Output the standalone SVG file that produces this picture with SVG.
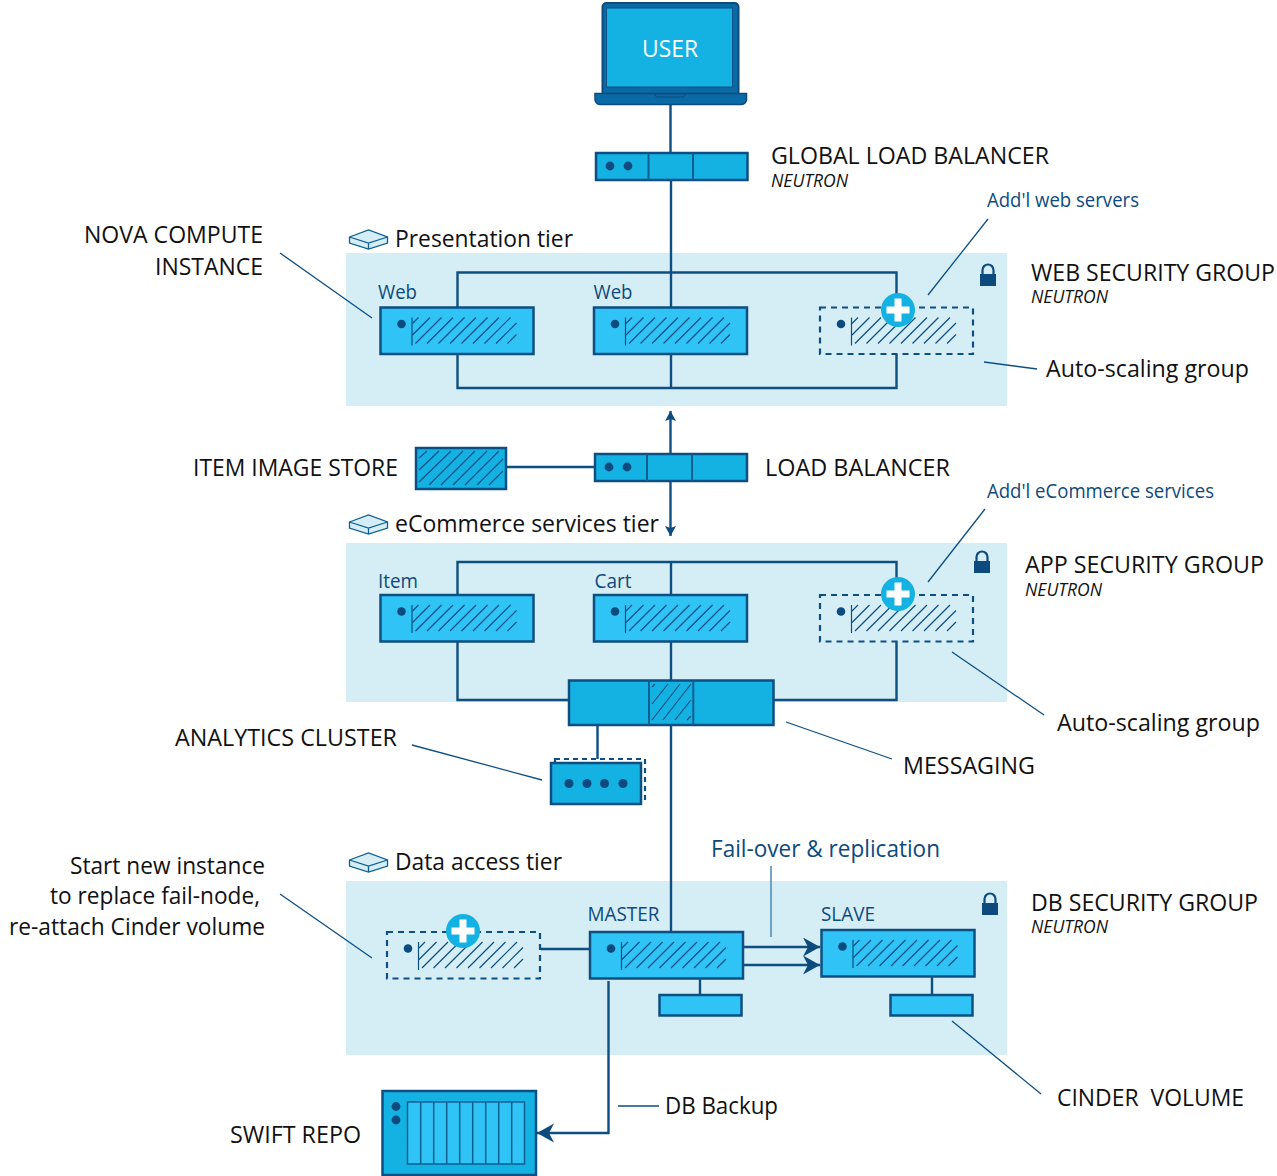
<svg xmlns="http://www.w3.org/2000/svg" xmlns:xlink="http://www.w3.org/1999/xlink" width="1277" height="1176" viewBox="0 0 1277 1176">
<style>
text{font-family:"Open Sans","Noto Sans","Liberation Sans",sans-serif;fill:#111}
.lg{font-size:24px}.md{font-size:23px}.it{font-size:18px;font-style:italic}
.nb{fill:#0d4a7e;font-size:20px}.nb2{fill:#0d4a7e;font-size:21px}
.panel{fill:#d5eef5}
.c{fill:none;stroke:#0d4f83;stroke-width:2.4}
.ld{fill:none;stroke:#0d4f83;stroke-width:1.3}
.box{fill:#30c3f6;stroke:#0d4f83;stroke-width:2.5}
.bl{fill:#14b1e3;stroke:#0d4f83;stroke-width:2.5}
.dash{fill:#d5eef5;stroke:#0d4f83;stroke-width:2.2;stroke-dasharray:6 5}
.div{stroke:#0d5f92;stroke-width:2;fill:none}
.h{stroke:#0d4f83;stroke-width:1.2;fill:none}
.dot{fill:#0d4a7e}
</style>
<defs>
<g id="hatch"><path class="h" d="M32 16L38 10M32 27.500L49.500 10M35 36L61 10M46.500 36L72.500 10M58 36L84 10M69.500 36L95.500 10M81 36L107 10M92.500 36L118.500 10M104 36L130 10M115.500 36L136 15.500M127 36L136 27"/><path class="h" d="M31.500 10V38" stroke-width="1.600"/><circle class="dot" cx="21" cy="16.500" r="4.300"/></g>
<g id="srv"><rect class="box" width="153" height="46.500"/><use href="#hatch"/></g>
<g id="dsrv"><rect class="dash" width="153" height="46.500"/><use href="#hatch"/></g>
<g id="plus"><circle r="17" fill="#14b1e3"/><path d="M-3.500 -11.500h7v8h8v7h-8v8h-7v-8h-8v-7h8z" fill="#fff"/></g>
<g id="tier"><path d="M1 8L20 1L39 8V14L20 20L1 14Z" fill="#d5eef5" stroke="#0d5f92" stroke-width="1.300"/><path d="M1 8L20 14L39 8M20 14V20" fill="none" stroke="#0d5f92" stroke-width="1.300"/></g>
<g id="lock"><rect x="0" y="10" width="16" height="12" fill="#0d4a7e"/><path d="M2.500 11V6a5.500 5.500 0 0 1 11 0V11" fill="none" stroke="#0d4a7e" stroke-width="2.200"/></g>
<marker id="bigR" markerUnits="userSpaceOnUse" markerWidth="20" markerHeight="20" refX="17" refY="9.500" orient="auto"><path d="M0 0L17 9.500L0 19L5 9.500Z" fill="#0d4a7e"/></marker>
<marker id="small" markerUnits="userSpaceOnUse" markerWidth="12" markerHeight="12" refX="10" refY="5.500" orient="auto"><path d="M0 0L10 5.500L0 11L2 5.500Z" fill="#0d4a7e"/></marker>
</defs>

<rect id="panel-presentation" class="panel" x="346" y="253" width="661" height="153"/>
<rect id="panel-ecommerce" class="panel" x="346" y="543" width="661" height="159"/>
<rect id="panel-data" class="panel" x="346" y="881" width="661" height="174"/>

<g id="connectors">
<path class="c" d="M670.500 105V153M671 180V388M457.500 307V272.500H896.500V307M457.500 354V388H896.500V354"/>
<path class="c" marker-end="url(#small)" d="M670.500 454V411"/>
<path class="c" marker-end="url(#small)" d="M670.500 481V536"/>
<path class="c" d="M506 467H595"/>
<path class="c" d="M457.500 595V562H896.500V595M671 562V595M671 641V680M457.500 641V700H569M896.500 641V700H774"/>
<path class="c" d="M671 725V932M597.500 725V760"/>
<path class="c" d="M541 949H590"/>
<path class="c" marker-end="url(#bigR)" d="M743 947H820"/>
<path class="c" marker-end="url(#bigR)" d="M743 965H820"/>
<path class="c" d="M700 979V995M932 977V995"/>
<path class="c" marker-end="url(#bigR)" d="M608.500 981V1133H537"/>
<path class="ld" style="stroke:#4a88b0;stroke-width:1.500" d="M771 866V937"/>
<path class="ld" d="M280 253L372 318M988 219L928 295M984 362L1037 369M985 509L928 582M952 652L1044 715M412 745L542 780M786 722L892 759M280 894L372 958M952 1021L1041 1094M618 1106H659"/>
</g>

<g id="user"><rect x="602.500" y="3" width="136" height="93" rx="4" fill="#0a6aa5" stroke="#0d4a7e" stroke-width="2"/><rect x="606.500" y="8" width="126" height="79" fill="#14b1e3" stroke="#0d4f83" stroke-width="1"/><path d="M595 93.500H746.500V99a5 5 0 0 1 -5 5.500H600a5 5 0 0 1 -5 -5.500Z" fill="#0a6aa5" stroke="#0d4a7e" stroke-width="1.500"/><path d="M654.500 94h31l-2 3h-27z" fill="#0a6aa5" stroke="#0d4a7e"/><text x="642" y="57" style="fill:#fff;font-size:24px" textLength="56" lengthAdjust="spacingAndGlyphs">USER</text></g>

<g id="global-lb"><rect class="bl" x="596" y="153" width="151.500" height="27"/><path class="div" d="M648.500 153V180M693 153V180"/><circle class="dot" cx="610" cy="166" r="4.400"/><circle class="dot" cx="628" cy="166" r="4.400"/><text x="771" y="164" class="lg" textLength="278" lengthAdjust="spacingAndGlyphs">GLOBAL LOAD BALANCER</text><text x="771" y="187" class="it" textLength="77" lengthAdjust="spacingAndGlyphs">NEUTRON</text></g>

<g id="presentation-tier"><use href="#tier" x="348.500" y="229"/><text x="395" y="247" class="lg" textLength="178" lengthAdjust="spacingAndGlyphs">Presentation tier</text></g>
<g id="nova-label"><text x="84" y="243" class="lg" textLength="179" lengthAdjust="spacingAndGlyphs">NOVA COMPUTE</text><text x="155" y="275" class="lg" textLength="108" lengthAdjust="spacingAndGlyphs">INSTANCE</text></g>
<g id="web1"><use href="#srv" x="380.500" y="307.500"/><text x="378" y="299" class="nb" textLength="39" lengthAdjust="spacingAndGlyphs">Web</text></g>
<g id="web2"><use href="#srv" x="594" y="307.500"/><text x="593.500" y="299" class="nb" textLength="39" lengthAdjust="spacingAndGlyphs">Web</text></g>
<g id="web3"><use href="#dsrv" x="820" y="307.500"/><use href="#plus" x="898" y="310"/></g>
<g id="web-sg"><use href="#lock" x="980" y="264"/><text x="1031" y="281" class="lg" textLength="244" lengthAdjust="spacingAndGlyphs">WEB SECURITY GROUP</text><text x="1031" y="303" class="it" textLength="77" lengthAdjust="spacingAndGlyphs">NEUTRON</text></g>
<text id="addl-web" x="987" y="207" class="nb" textLength="152" lengthAdjust="spacingAndGlyphs">Add'l web servers</text>
<text id="asg1" x="1046" y="377" class="lg" textLength="203" lengthAdjust="spacingAndGlyphs">Auto-scaling group</text>

<g id="image-store"><rect class="bl" x="416" y="448" width="90" height="41"/><path class="h" d="M419 458L427 451M419 470L439 451M419 482L451 451M429 485L463 451M441 485L475 451M453 485L487 451M465 485L499 451M477 485L503 459M489 485L503 471"/><text x="193" y="476" class="lg" textLength="205" lengthAdjust="spacingAndGlyphs">ITEM IMAGE STORE</text></g>
<g id="lb"><rect class="bl" x="595" y="454" width="152" height="27"/><path class="div" d="M647 454V481M692 454V481"/><circle class="dot" cx="609" cy="467" r="4.400"/><circle class="dot" cx="627" cy="467" r="4.400"/><text x="765" y="476" class="lg" textLength="185" lengthAdjust="spacingAndGlyphs">LOAD BALANCER</text></g>

<g id="ecommerce-tier"><use href="#tier" x="348.500" y="514"/><text x="395" y="532" class="lg" textLength="264" lengthAdjust="spacingAndGlyphs">eCommerce services tier</text></g>
<text id="addl-ecom" x="987" y="498" class="nb" textLength="227" lengthAdjust="spacingAndGlyphs">Add'l eCommerce services</text>
<g id="item"><use href="#srv" x="380.500" y="595"/><text x="378" y="588" class="nb" textLength="40" lengthAdjust="spacingAndGlyphs">Item</text></g>
<g id="cart"><use href="#srv" x="594" y="595"/><text x="594.500" y="588" class="nb" textLength="37" lengthAdjust="spacingAndGlyphs">Cart</text></g>
<g id="ecom3"><use href="#dsrv" x="820" y="595"/><use href="#plus" x="898" y="594"/></g>
<g id="app-sg"><use href="#lock" x="974" y="551"/><text x="1025" y="573" class="lg" textLength="239" lengthAdjust="spacingAndGlyphs">APP SECURITY GROUP</text><text x="1025" y="596" class="it" textLength="77" lengthAdjust="spacingAndGlyphs">NEUTRON</text></g>
<text id="asg2" x="1057" y="731" class="lg" textLength="203" lengthAdjust="spacingAndGlyphs">Auto-scaling group</text>

<g id="messaging"><rect class="bl" x="569" y="680.500" width="204.500" height="44.500"/><path class="div" d="M649 680.500V725M693.300 680.500V725"/><path class="h" d="M652 687L655 684M652 704L668 684M652 720L680 684M663 720L691 684M675 720L691 700M687 720L691 716"/><text x="903" y="774" class="lg" textLength="132" lengthAdjust="spacingAndGlyphs">MESSAGING</text></g>
<g id="analytics"><rect x="555" y="759" width="90" height="42" fill="#fff" stroke="#0d4f83" stroke-width="2.200" stroke-dasharray="5 4"/><rect class="bl" x="551" y="763" width="90" height="41"/><circle class="dot" cx="569" cy="783.500" r="4.500"/><circle class="dot" cx="587" cy="783.500" r="4.500"/><circle class="dot" cx="604.500" cy="783.500" r="4.500"/><circle class="dot" cx="623" cy="783.500" r="4.500"/><text x="175" y="746" class="lg" textLength="222" lengthAdjust="spacingAndGlyphs">ANALYTICS CLUSTER</text></g>

<g id="data-tier"><use href="#tier" x="348.500" y="852"/><text x="395" y="870" class="lg" textLength="167" lengthAdjust="spacingAndGlyphs">Data access tier</text></g>
<g id="newinst-label"><text x="70" y="874" class="lg" textLength="195" lengthAdjust="spacingAndGlyphs">Start new instance</text><text x="50" y="904" class="lg" textLength="210" lengthAdjust="spacingAndGlyphs">to replace fail-node,</text><text x="9" y="935" class="lg" textLength="256" lengthAdjust="spacingAndGlyphs">re-attach Cinder volume</text></g>
<g id="standby"><use href="#dsrv" x="387" y="932"/><use href="#plus" x="463" y="931"/></g>
<g id="master"><use href="#srv" x="590" y="932"/><text x="587.500" y="921" class="nb" textLength="72" lengthAdjust="spacingAndGlyphs">MASTER</text><rect class="box" x="659.500" y="995" width="82" height="20.500"/></g>
<g id="slave"><use href="#srv" x="821.500" y="930"/><text x="821" y="921" class="nb" textLength="54" lengthAdjust="spacingAndGlyphs">SLAVE</text><rect class="box" x="890.500" y="995" width="82" height="20.500"/></g>
<text id="failover" x="711" y="857" class="nb2" style="font-size:23px" textLength="229" lengthAdjust="spacingAndGlyphs">Fail-over &amp; replication</text>
<g id="db-sg"><use href="#lock" x="982" y="893"/><text x="1031" y="911" class="lg" textLength="227" lengthAdjust="spacingAndGlyphs">DB SECURITY GROUP</text><text x="1031" y="933" class="it" textLength="77" lengthAdjust="spacingAndGlyphs">NEUTRON</text></g>
<text id="cinder" x="1057" y="1106" class="lg" style="white-space:pre" textLength="187" lengthAdjust="spacingAndGlyphs">CINDER  VOLUME</text>
<text id="backup" x="665" y="1114" class="lg" textLength="113" lengthAdjust="spacingAndGlyphs">DB Backup</text>

<g id="swift"><rect class="bl" x="382.500" y="1091" width="153.500" height="84"/><circle class="dot" cx="396" cy="1106.500" r="4.400"/><circle class="dot" cx="396" cy="1120" r="4.400"/><rect x="407.500" y="1102" width="117" height="62" fill="#30c3f6" stroke="#0d5f92" stroke-width="1.500"/><path class="div" style="stroke-width:1.500" d="M420.700 1102V1164M433.700 1102V1164M446.700 1102V1164M459.700 1102V1164M472.700 1102V1164M485.700 1102V1164M498.700 1102V1164M511.700 1102V1164"/><text x="230" y="1143" class="lg" textLength="131" lengthAdjust="spacingAndGlyphs">SWIFT REPO</text></g>
</svg>
